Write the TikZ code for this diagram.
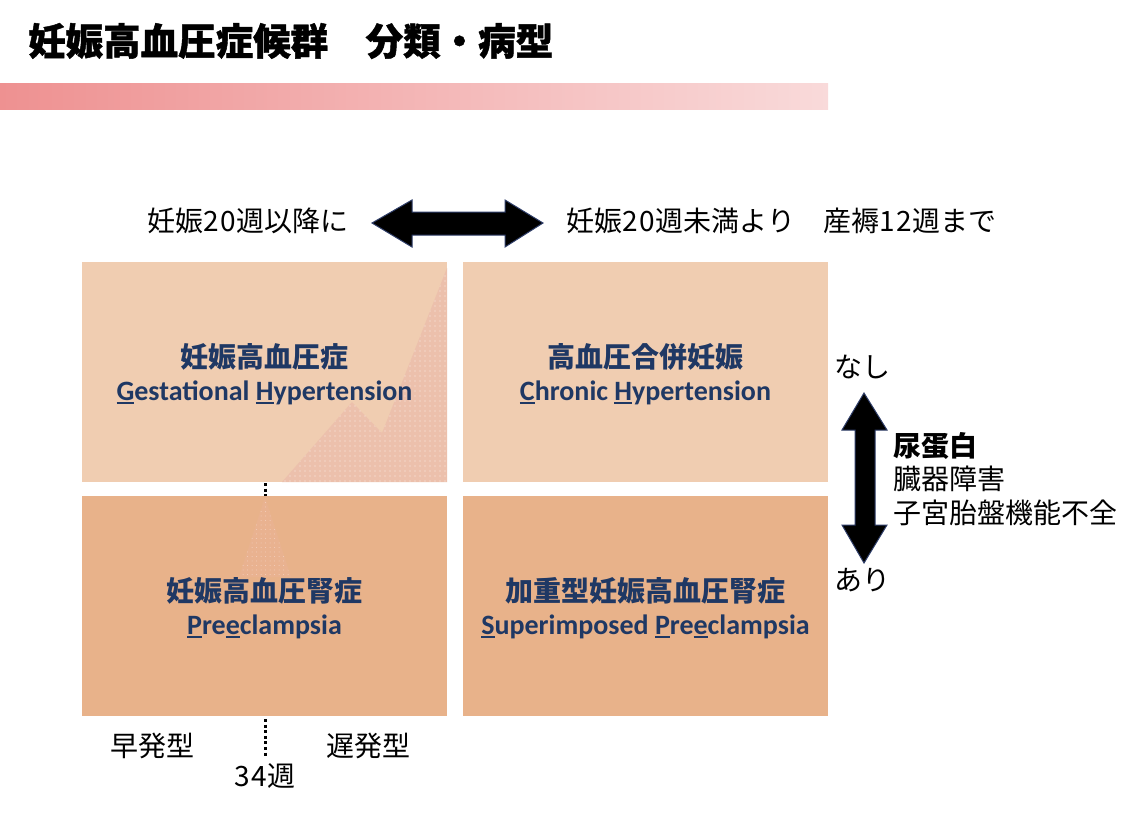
\documentclass[tikz,border=0pt]{standalone}
\usepackage{fontspec}
\setmainfont{Carlito}
\newfontfamily\jp{Noto Sans CJK JP}
\newfontfamily\jptitle{Noto Sans CJK JP}[BoldFeatures={FakeBold=1.2}]
\newfontfamily\lat{Carlito}
\usetikzlibrary{patterns.meta}
\definecolor{peachL}{RGB}{240,205,177}
\definecolor{peachD}{RGB}{232,178,138}
\definecolor{pinkreg}{RGB}{236,192,172}
\definecolor{pinkdot}{RGB}{252,236,230}
\definecolor{pinktri}{RGB}{233,178,144}
\definecolor{tridot}{RGB}{244,208,190}
\definecolor{navy}{RGB}{31,56,100}
\definecolor{bandL}{RGB}{238,145,145}
\definecolor{bandR}{RGB}{249,218,218}
\definecolor{arrowedge}{RGB}{47,62,105}
\newcommand\ulx[1]{\setbox0=\hbox{#1}\rlap{\rule[-3.5pt]{\wd0}{1.8pt}}\box0}
\newcommand\dg[1]{\hbox to 0.6em{\hss#1\hss}}
\begin{document}
\begin{tikzpicture}[x=1pt,y=-1pt,
  box/.style={draw=none,inner sep=0pt,minimum width=365pt,minimum height=220pt},
  boxtxt/.style={text=navy,align=center,inner sep=0pt,font=\bfseries\fontsize{28}{33}\selectfont},
  lbl/.style={inner sep=0pt,font=\jp\fontsize{28}{33}\selectfont},
  dotline/.style={line width=3pt,dash pattern=on 3pt off 2.6pt},
  blockarrow/.style={fill=black,draw=arrowedge,line width=1pt,line join=miter}]
\useasboundingbox (0,0) rectangle (1125,831);
\fill[white] (0,0) rectangle (1125,831);
% title
\node[anchor=west,inner sep=0pt,font=\jptitle\bfseries\fontsize{37.5}{40}\selectfont] (title) at (28,41) {妊娠高血圧症候群　分類・病型};
% band
\shade[left color=bandL,right color=bandR] (0,83) rectangle (828,109);
% boxes
\node[box,fill=peachL] (b1) at (264.5,372) {};
\node[box,fill=peachL] (b2) at (645.5,372) {};
\node[box,fill=peachD] (b3) at (264.5,606) {};
\node[box,fill=peachD] (b4) at (645.5,606) {};
% decorative dotted regions
\fill[pinkreg] (282,482) -- (352,402) -- (382,433) -- (447,268) -- (447,482) -- cycle;
\fill[pattern={Dots[distance=5pt,radius=0.55pt]},pattern color=pinkdot] (282,482) -- (352,402) -- (382,433) -- (447,268) -- (447,482) -- cycle;
\fill[pinktri] (265,497) -- (291,577) -- (239,577) -- cycle;
\fill[pattern={Dots[distance=4.5pt,radius=0.5pt]},pattern color=tridot] (265,497) -- (291,577) -- (239,577) -- cycle;
% box texts
\node[boxtxt] (gh) at (264.5,374) {{\jp 妊娠高血圧症}\\{\lat\ulx{G}estational \ulx{H}ypertension}};
\node[boxtxt] (ch) at (645.5,374) {{\jp 高血圧合併妊娠}\\{\lat\ulx{C}hronic \ulx{H}ypertension}};
\node[boxtxt] (pe) at (264.5,608) {{\jp 妊娠高血圧腎症}\\{\lat\ulx{P}re\ulx{e}clampsia}};
\node[boxtxt] (sp) at (645.5,608) {{\jp 加重型妊娠高血圧腎症}\\{\lat\ulx{S}uperimposed \ulx{P}re\ulx{e}clampsia}};
% top labels and arrow
\node[lbl,anchor=west] (t1) at (147,221) {妊娠\dg{2}\dg{0}週以降に};
\node[lbl,anchor=west] (t2) at (566,221) {妊娠\dg{2}\dg{0}週未満より　産褥\dg{1}\dg{2}週まで};
\draw[blockarrow] (372,223) -- (412,200) -- (412,212) -- (505,212) -- (505,200) -- (543,223) -- (505,247) -- (505,235) -- (412,235) -- (412,247) -- cycle;
% right side
\node[lbl] (nashi) at (862,367) {なし};
\node[lbl] (ari) at (862,580) {あり};
\draw[blockarrow] (864,393) -- (887,430) -- (875,430) -- (875,525) -- (887,525) -- (864,563) -- (842,525) -- (855,525) -- (855,430) -- (842,430) -- cycle;
\node[lbl,anchor=west,align=left,font=\jp\fontsize{28}{33.5}\selectfont] (crit) at (893,479) {{\bfseries 尿蛋白}\\臓器障害\\子宮胎盤機能不全};
% bottom labels and dotted lines
\coordinate (d1a) at (265,483);
\coordinate (d1b) at (265,496);
\coordinate (d2a) at (265,719);
\coordinate (d2b) at (265,758);
\draw[dotline] (d1a) -- (d1b);
\draw[dotline] (d2a) -- (d2b);
\node[lbl] (early) at (152,746) {早発型};
\node[lbl] (late) at (368,746) {遅発型};
\node[lbl] (w34) at (265,776) {\dg{3}\dg{4}週};
\end{tikzpicture}
\end{document}
